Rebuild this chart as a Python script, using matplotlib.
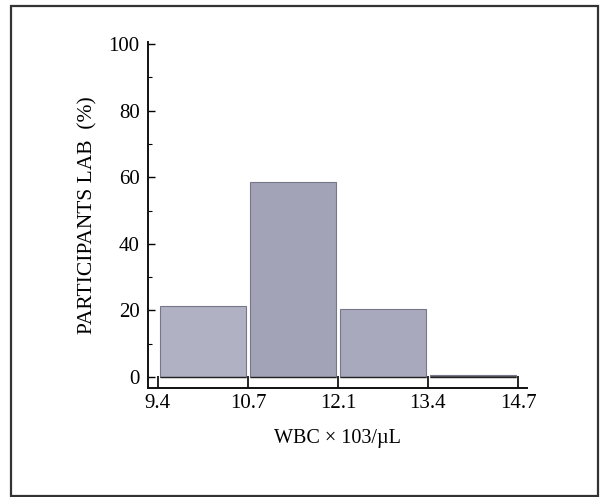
import matplotlib
matplotlib.use("Agg")
import matplotlib.pyplot as plt
from matplotlib.ticker import MultipleLocator
from matplotlib.patches import Rectangle

bin_edges = ["9.4", "10.7", "12.1", "13.4", "14.7"]
percent = [21.2, 58.5, 20.4, 0.5]
bar_colors = ["#b0b1c3", "#a2a3b6", "#a8a9bc", "#55555e"]

plt.rcParams['font.family'] = ['Liberation Serif', 'DejaVu Serif']

fig = plt.figure(figsize=(6.0, 4.97), dpi=100)
fig.patches.append(Rectangle((11/600, 1-496/497), 587/600, 490/497, transform=fig.transFigure,
                             fill=False, edgecolor="#333333", linewidth=1.6))

ax = fig.add_axes([148/600, 1-388/497, 379/600, 346/497])
pos = [i + 0.5 for i in range(len(percent))]
ax.bar(pos, percent, width=0.95, color=bar_colors, edgecolor="#77778a", linewidth=0.8)
ax.hlines([0] * len(pos), [p - 0.475 for p in pos], [p + 0.475 for p in pos], color="#222222", linewidth=1.0)

ax.set_xlim(-0.11, 4.1)
ax.set_ylim(-3.3, 100.6)
ax.set_xticks(range(len(bin_edges)))
ax.set_xticklabels(bin_edges)
ax.set_yticks([0, 20, 40, 60, 80, 100])
ax.yaxis.set_minor_locator(MultipleLocator(10))

for s in ["top", "right"]:
    ax.spines[s].set_visible(False)
for s in ["left", "bottom"]:
    ax.spines[s].set_linewidth(1.4)
    ax.spines[s].set_color("#111111")

ax.tick_params(axis="y", which="major", direction="in", length=5, width=1.0, pad=6, labelsize=15)
ax.tick_params(axis="y", which="minor", direction="in", length=3, width=0.8)
ax.tick_params(axis="x", which="major", direction="in", length=9, width=1.2, pad=4, labelsize=15)

ax.set_ylabel("PARTICIPANTS LAB  (%)", fontsize=15.5, labelpad=8)
ax.set_xlabel("WBC × 103/µL", fontsize=14.5, labelpad=12)

fig.savefig("out.png", dpi=100)
